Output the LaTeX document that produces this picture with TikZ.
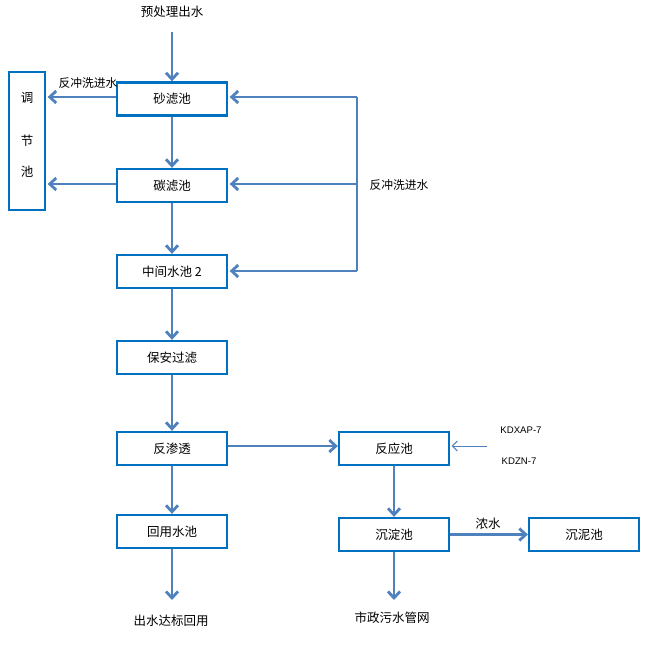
\documentclass[tikz,border=0pt]{standalone}
\usepackage{fontspec}
\setmainfont{Noto Sans CJK SC}
\setsansfont{Liberation Sans}
\usetikzlibrary{arrows.meta}
\definecolor{boxc}{HTML}{0070C0}
\definecolor{arrc}{HTML}{4F81BD}
\tikzset{
  stepbox/.style={draw=boxc,line width=2.3pt,minimum width=110pt,minimum height=33pt,inner sep=0pt,font=\fontsize{12.5}{14}\selectfont},
  flow/.style={draw=arrc,line width=2.8pt,-{Straight Barb[length=6.5pt,width=12pt,line width=2.8pt]}},
  thinflow/.style={draw=arrc,line width=1pt,-{Straight Barb[length=5pt,width=10pt,line width=1pt]}},
  line/.style={draw=arrc,line width=2.8pt},
  lbl/.style={font=\fontsize{12.5}{14}\selectfont,inner sep=0pt},
  slbl/.style={font=\fontsize{11.8}{13}\selectfont,inner sep=0pt},
  tlbl/.style={font=\fontsize{9.6}{11}\selectfont\sffamily,inner sep=0pt}
}
\begin{document}
\begin{tikzpicture}[x=1pt,y=-1pt]
\useasboundingbox (0,0) rectangle (647,647);
% boxes
\node[stepbox,minimum width=36pt,minimum height=138pt] (tj) at (27,141) {};
\node[lbl] at (27,98) {调};
\node[lbl] at (27,141) {节};
\node[lbl] at (27,172) {池};
\node[stepbox] (sl) at (172,99) {砂滤池};
\node[stepbox] (tl) at (172,185.5) {碳滤池};
\node[stepbox] (zj) at (172,271.5) {中间水池 2};
\node[stepbox] (ba) at (172,357.5) {保安过滤};
\node[stepbox] (fs) at (172,448.5) {反渗透};
\node[stepbox] (hy) at (172,531.5) {回用水池};
\node[stepbox] (fy) at (394,448.5) {反应池};
\node[stepbox] (cd) at (394,534.5) {沉淀池};
\node[stepbox] (cn) at (584,534.5) {沉泥池};
% texts
\node[lbl] (src) at (172,12) {预处理出水};
\node[lbl] (out1) at (171,621) {出水达标回用};
\node[lbl] (out2) at (392,618) {市政污水管网};
\node[slbl] at (88,83) {反冲洗进水};
\node[slbl] at (399,185) {反冲洗进水};
\node[lbl] at (488,524) {浓水};
\node[tlbl] at (521,430) {KDXAP-7};
\node[tlbl] at (519,461) {KDZN-7};
% coordinates
\coordinate (s0) at (172,32);
\coordinate (r1) at (357,97);
\coordinate (r2) at (357,184);
\coordinate (r3) at (357,271);
\coordinate (e1) at (172,600);
\coordinate (e2) at (394,600);
\coordinate (ch) at (487,446);
% arrows
\draw[flow] (s0) -- (sl.north);
\draw[flow] (sl.south) -- (tl.north);
\draw[flow] (tl.south) -- (zj.north);
\draw[flow] (zj.south) -- (ba.north);
\draw[flow] (ba.south) -- (fs.north);
\draw[flow] (fs.south) -- (hy.north);
\draw[flow] (hy.south) -- (e1);
\draw[flow] (sl.west|-0,97) -- ([xshift=1.5pt]tj.east|-0,97);
\draw[flow] (tl.west|-0,184) -- ([xshift=1.5pt]tj.east|-0,184);
\draw[line] (r1) -- (r3);
\draw[flow] (r1) -- ([xshift=1.5pt]sl.east|-r1);
\draw[flow] (r2) -- ([xshift=1.5pt]tl.east|-r2);
\draw[flow] (r3) -- ([xshift=1.5pt]zj.east|-r3);
\draw[flow] (fs.east|-0,446) -- (fy.west|-0,446);
\draw[thinflow] (ch) -- ([xshift=1.5pt]fy.east|-ch);
\draw[flow] (fy.south) -- (cd.north);
\draw[flow] (cd.south) -- (e2);
\draw[flow] (cd.east) -- (cn.west);
\end{tikzpicture}
\end{document}
